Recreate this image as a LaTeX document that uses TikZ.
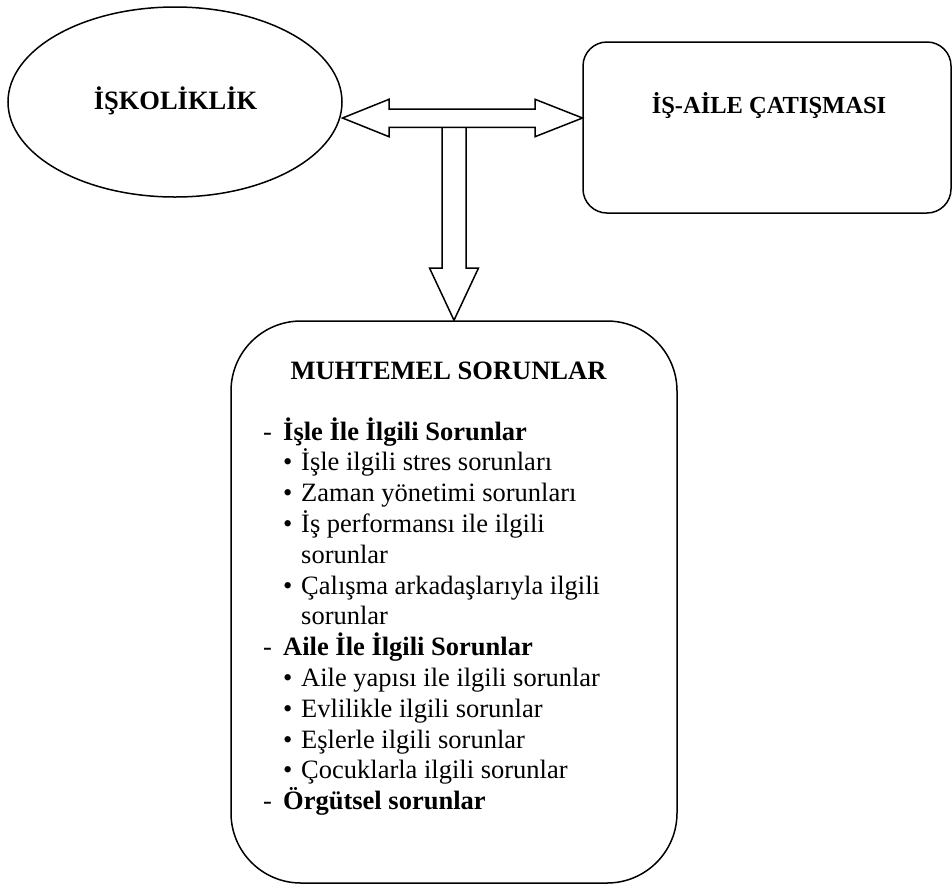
\documentclass[tikz,border=0pt]{standalone}
\usepackage{fontspec}
\setmainfont{Liberation Serif}
\usetikzlibrary{shapes.geometric}
\newcommand{\dashmark}{\makebox[20pt][l]{-}}
\newcommand{\dotmark}{\makebox[18pt][l]{•}}
\begin{document}
\begin{tikzpicture}[x=1pt,y=-1pt,
  outline/.style={draw=black, line width=1.5pt, fill=white, inner sep=0pt},
  heading/.style={font=\fontsize{26.5}{31}\selectfont\bfseries, inner sep=0pt, anchor=base},
  item/.style={font=\fontsize{26.5}{31}\selectfont, inner sep=0pt, anchor=base west},
  blockarrow/.style={draw=black, line width=1.5pt, fill=white, line join=miter}]
\useasboundingbox (0,0) rectangle (952,887);

% the three shapes
\node[outline, ellipse, minimum width=334pt, minimum height=190pt] (isk) at (175,102) {};
\node[heading] (iskt) at (175.5,109) {İŞKOLİKLİK};

\node[outline, rectangle, rounded corners=24pt, minimum width=368pt, minimum height=171pt] (iac) at (767,127.5) {};
\node[heading, font=\fontsize{24.5}{29}\selectfont\bfseries] (iact) at (769,113) {İŞ-AİLE ÇATIŞMASI};

\node[outline, rectangle, rounded corners=70pt, minimum width=446pt, minimum height=562pt] (ms) at (454,602) {};
\node[heading] (mst) at (448.5,379.3) {MUHTEMEL SORUNLAR};

% block arrows
\coordinate (tl) at (342.5,118);
\coordinate (tr) at (582.5,118);
\coordinate (tb) at (ms.north);
\draw[blockarrow] (442,127.4) -- (442,268) -- (429.5,268) -- (tb) -- (478.5,268) -- (466,268) -- (466,127.4);
\draw[blockarrow] (tl) -- (389,99.3) -- (389,109) -- (535,109) -- (535,99.3) -- (tr)
  -- (535,136.7) -- (535,127.4) -- (389,127.4) -- (389,136.7) -- cycle;

% list of problems
\node[item] (l1)  at (263,440.0) {\dashmark\textbf{İşle İle İlgili Sorunlar}};
\node[item] (l2)  at (283,470.8) {\dotmark İşle ilgili stres sorunları};
\node[item] (l3)  at (283,501.6) {\dotmark Zaman yönetimi sorunları};
\node[item] (l4)  at (283,532.4) {\dotmark İş performansı ile ilgili};
\node[item] (l5)  at (301,563.2) {sorunlar};
\node[item] (l6)  at (283,594.0) {\dotmark Çalışma arkadaşlarıyla ilgili};
\node[item] (l7)  at (301,624.8) {sorunlar};
\node[item] (l8)  at (263,655.6) {\dashmark\textbf{Aile İle İlgili Sorunlar}};
\node[item] (l9)  at (283,686.4) {\dotmark Aile yapısı ile ilgili sorunlar};
\node[item] (l10) at (283,717.2) {\dotmark Evlilikle ilgili sorunlar};
\node[item] (l11) at (283,748.0) {\dotmark Eşlerle ilgili sorunlar};
\node[item] (l12) at (283,778.8) {\dotmark Çocuklarla ilgili sorunlar};
\node[item] (l13) at (263,809.6) {\dashmark\textbf{Örgütsel sorunlar}};
\end{tikzpicture}
\end{document}
